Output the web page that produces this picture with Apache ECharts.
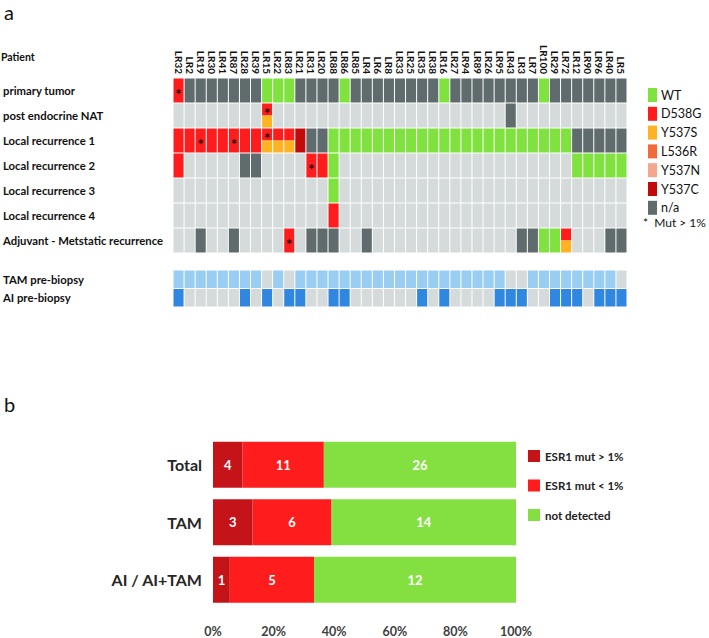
<!DOCTYPE html>
<html><head><meta charset="utf-8">
<script src="https://cdn.jsdelivr.net/npm/echarts@6/dist/echarts.min.js"></script>
<style>html,body{margin:0;padding:0;background:#fff}#c{width:709px;height:638px}</style>
</head><body><div id="c"></div>
<script>
// ---------- DATA ----------
const patients = ['LR32','LR2','LR19','LR30','LR41','LR87','LR28','LR39','LR15','LR22','LR83','LR21','LR31','LR20','LR88','LR86','LR85','LR4','LR6','LR8','LR33','LR25','LR35','LR38','LR16','LR27','LR94','LR89','LR26','LR95','LR43','LR3','LR7','LR100','LR29','LR72','LR12','LR90','LR96','LR40','LR5'];
const sampleRows = ['primary tumor','post endocrine NAT','Local recurrence 1','Local recurrence 2','Local recurrence 3','Local recurrence 4','Adjuvant - Metstatic recurrence'];
// codes: . none, N n/a, W WT, D D538G, S Y537S, R L536R, Y Y537N, C Y537C ; '*' = Mut > 1% ; 'A/B' = two mutations
const primaryTumor   = ['D*','N','N','N','N','N','N','N','W','W','W','N','N','N','N','W','N','N','N','N','N','N','N','N','W','N','N','N','N','N','N','N','N','W','N','N','N','N','N','N','N'];
const postNAT        = ['.','.','.','.','.','.','.','.','D*/S','.','.','.','.','.','.','.','.','.','.','.','.','.','.','.','.','.','.','.','.','.','N','.','.','.','.','.','.','.','.','.','.'];
const localRec1      = ['D','D','D*','D','D','D*','D','D','D*/S','D/S','D/S','C','N','N','W','W','W','W','W','W','W','W','W','W','W','W','W','W','W','W','W','W','W','W','W','W','N','N','N','N','N'];
const localRec2      = ['D','.','.','.','.','.','N','N','.','.','.','.','D*','D','W','.','.','.','.','.','.','.','.','.','.','.','.','.','.','.','.','.','.','.','.','.','W','W','W','W','W'];
const localRec3      = ['.','.','.','.','.','.','.','.','.','.','.','.','.','.','W','.','.','.','.','.','.','.','.','.','.','.','.','.','.','.','.','.','.','.','.','.','.','.','.','.','.'];
const localRec4      = ['.','.','.','.','.','.','.','.','.','.','.','.','.','.','D','.','.','.','.','.','.','.','.','.','.','.','.','.','.','.','.','.','.','.','.','.','.','.','.','.','.'];
const adjuvantMet    = ['.','.','N','.','.','N','.','.','.','.','D*','.','N','N','N','.','.','N','.','.','.','.','.','.','.','.','.','.','.','.','.','N','N','W','W','D/S','.','.','.','N','N'];
const therapyRows = ['TAM pre-biopsy','AI pre-biopsy'];
const tamPre = [1,1,1,1,1,1,1,1,0,1,0,1,1,1,1,1,1,1,1,1,1,1,1,1,1,1,1,1,1,1,0,0,1,1,1,1,1,1,1,1,0];
const aiPre  = [1,0,0,0,0,0,1,0,1,0,1,1,0,0,1,1,0,0,0,0,0,0,1,0,1,0,0,0,0,1,1,1,0,0,1,1,1,0,1,1,1];
const mutLegend = ['WT','D538G','Y537S','L536R','Y537N','Y537C','n/a'];

const groups = ['Total','TAM','AI / AI+TAM'];
const mutAbove1 = [4,3,1];
const mutBelow1 = [11,6,5];
const notDetected = [26,14,12];
const barSeriesNames = ['ESR1 mut > 1%','ESR1 mut < 1%','not detected'];

// ---------- STYLE ----------
const COL = {'.':'#D5DADA', N:'#5F6B6C', W:'#80E23E', D:'#FF1C1C', S:'#FFB322', R:'#F26A3A', Y:'#F5A78E', C:'#C20A0A'};
const legendColors = [COL.W, COL.D, COL.S, COL.R, COL.Y, COL.C, COL.N];
const TAMC = '#99CEF2', AIC = '#2F87E0';
const barColors = ['#C4141A','#FF1C1C','#84E040'];
const FONT = 'Lato, "Open Sans", sans-serif';

const mutRowsData = [primaryTumor, postNAT, localRec1, localRec2, localRec3, localRec4, adjuvantMet];
const cells = [];
mutRowsData.forEach((row, r) => row.forEach((code, c) => {
  const parts = code.split('/');
  cells.push({c, r, top: parts[0].replace('*',''), bottom: (parts[1]||parts[0]).replace('*',''), split: parts.length>1, star: parts[0].indexOf('*')>=0});
}));
const therapyCells = [];
[tamPre, aiPre].forEach((row, r) => row.forEach((v, c) => therapyCells.push({c, r, v})));

const chart = echarts.init(document.getElementById('c'), null, {renderer:'svg'});

function renderMut(params, api) {
  const d = cells[params.dataIndex];
  const p = api.coord([d.c, d.r]);
  const s = api.size([1,1]);
  const x = p[0]-s[0]/2+0.5, y = p[1]-s[1]/2+0.5, w = s[0]-1, h = s[1]-1;
  const ch = [];
  if (d.split) {
    ch.push({type:'rect', shape:{x, y, width:w, height:h/2}, style:{fill:COL[d.top]}});
    ch.push({type:'rect', shape:{x, y:y+h/2, width:w, height:h/2}, style:{fill:COL[d.bottom]}});
  } else {
    ch.push({type:'rect', shape:{x, y, width:w, height:h}, style:{fill:COL[d.top]}});
  }
  if (d.star) {
    const cy = d.split ? y + h/4 : y + h/2;
    ch.push({type:'text', x: x+w/2, y: cy+3, style:{text:'*', fill:'#111', font:'bold 15px '+FONT, align:'center', verticalAlign:'middle'}});
  }
  return {type:'group', children: ch};
}
function renderTher(params, api) {
  const d = therapyCells[params.dataIndex];
  const p = api.coord([d.c, d.r]);
  const s = api.size([1,1]);
  const fill = d.v ? (d.r===0 ? TAMC : AIC) : COL['.'];
  return {type:'rect', shape:{x:p[0]-s[0]/2+0.5, y:p[1]-s[1]/2+0.5, width:s[0]-1, height:s[1]-1}, style:{fill}};
}

const totals = groups.map((g,i)=>mutAbove1[i]+mutBelow1[i]+notDetected[i]);
const barSets = [mutAbove1, mutBelow1, notDetected];

const rowLabel = {align:'left', margin:170, color:'#111', fontSize:11.3, fontWeight:'bold', fontFamily:FONT};

const option = {
  animation:false,
  textStyle:{fontFamily:FONT},
  grid:[
    {left:170.5, width:456.5, top:78, height:175},
    {left:170.5, width:456.5, top:270, height:37},
    {left:213, width:303, top:436, height:172.5}
  ],
  xAxis:[
    {type:'category', gridIndex:0, data:patients, position:'top', axisLine:{show:false}, axisTick:{show:false},
     axisLabel:{rotate:90, interval:0, margin:4, fontSize:10, fontWeight:'bold', color:'#111', fontFamily:FONT}},
    {type:'category', gridIndex:1, data:patients, show:false},
    {type:'value', gridIndex:2, min:0, max:100, interval:20, splitLine:{show:false}, axisLine:{show:false}, axisTick:{show:false},
     axisLabel:{formatter:'{value}%', margin:16, fontSize:12.5, fontWeight:'bold', color:'#404040', fontFamily:FONT}}
  ],
  yAxis:[
    {type:'category', gridIndex:0, data:sampleRows, inverse:true, axisLine:{show:false}, axisTick:{show:false}, axisLabel:rowLabel},
    {type:'category', gridIndex:1, data:therapyRows, inverse:true, axisLine:{show:false}, axisTick:{show:false}, axisLabel:rowLabel},
    {type:'category', gridIndex:2, data:groups, inverse:true, axisLine:{show:false}, axisTick:{show:false},
     axisLabel:{margin:11, fontSize:16, fontWeight:'bold', color:'#262626', fontFamily:FONT}}
  ],
  legend:[
    {data:mutLegend, orient:'vertical', left:643, top:83, itemWidth:9, itemHeight:14, itemGap:4.8, icon:'rect', selectedMode:false,
     textStyle:{fontSize:12.5, color:'#111', fontFamily:FONT, padding:[0,0,0,-1]}},
    {data:barSeriesNames, orient:'vertical', left:523, top:445, itemWidth:12, itemHeight:12, itemGap:17.5, icon:'rect', selectedMode:false,
     textStyle:{fontSize:11.5, fontWeight:'bold', color:'#222', fontFamily:FONT}}
  ],
  graphic:[
    {type:'text', left:4, top:2, style:{text:'a', font:'20px '+FONT, fill:'#111'}},
    {type:'text', left:4, top:394, style:{text:'b', font:'20px '+FONT, fill:'#111'}},
    {type:'text', left:1, top:51, style:{text:'Patient', font:'bold 10.5px '+FONT, fill:'#111'}},
    {type:'text', left:643, top:216, style:{text:'*  Mut > 1%', font:'12px '+FONT, fill:'#111'}}
  ],
  series:[
    {type:'custom', name:'cells', xAxisIndex:0, yAxisIndex:0, renderItem:renderMut, data:cells.map(d=>[d.c,d.r])},
    {type:'custom', name:'therapy', xAxisIndex:1, yAxisIndex:1, renderItem:renderTher, data:therapyCells.map(d=>[d.c,d.r])}
  ].concat(mutLegend.map((n,i)=>({type:'custom', name:n, xAxisIndex:0, yAxisIndex:0, data:[], renderItem:()=>null, itemStyle:{color:legendColors[i]}})))
   .concat(barSeriesNames.map((n,k)=>({
     type:'bar', name:n, stack:'all', xAxisIndex:2, yAxisIndex:2, barWidth:46,
     itemStyle:{color:barColors[k]},
     label:{show:true, position:'inside', color:'#fff', fontWeight:'bold', fontSize:13, fontFamily:FONT, formatter:p=>p.data.count},
     data:barSets[k].map((v,i)=>({value:v/totals[i]*100, count:v}))
   })))
};
chart.setOption(option);
</script></body></html>
